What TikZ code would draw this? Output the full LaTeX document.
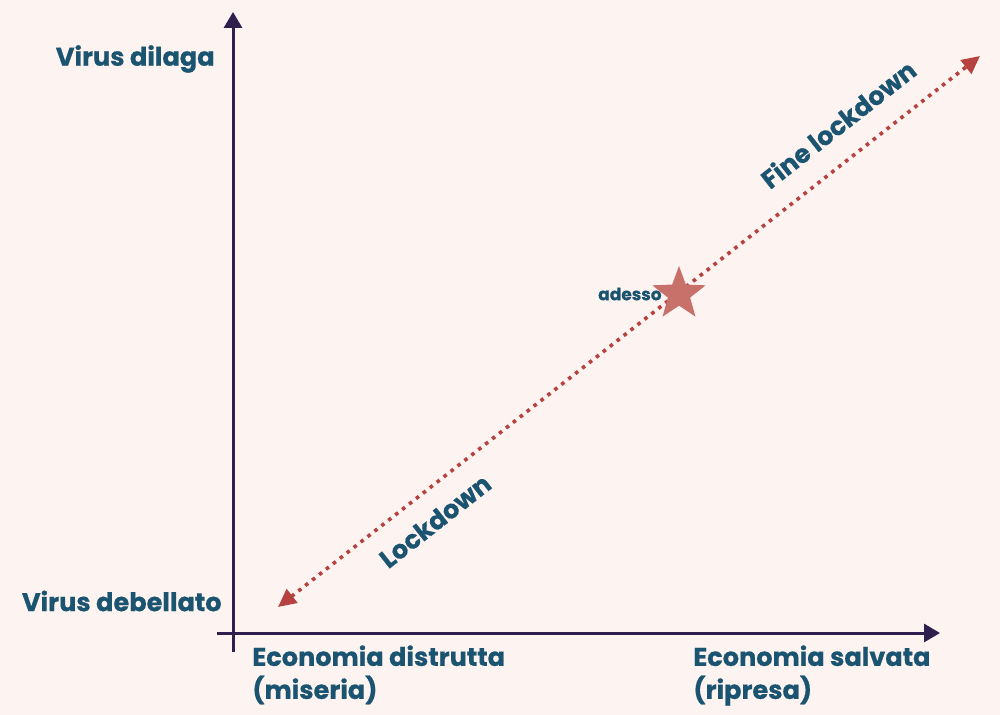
\documentclass[tikz,border=0pt]{standalone}
\usepackage{fontspec}
\setmainfont{Poppins}[BoldFeatures={FakeBold=0.6}]
\usetikzlibrary{arrows.meta,shapes.geometric}
\definecolor{bg}{HTML}{FDF3F1}
\definecolor{axis}{HTML}{2E1F4E}
\definecolor{txt}{HTML}{1B5470}
\definecolor{dotc}{HTML}{B5423F}
\definecolor{starc}{HTML}{C8706A}
\tikzset{
  lab/.style={text=txt, font=\bfseries\fontsize{12.8}{16.5}\selectfont, inner sep=0pt},
  axisline/.style={draw=axis, line width=1.5pt},
  path/.style={draw=dotc, line width=1.8pt, dash pattern=on 1.8pt off 2.6pt, {Triangle[length=9pt,width=8.5pt]}-{Triangle[length=9pt,width=8.5pt]}},
}
\begin{document}
\begin{tikzpicture}[x=0.5pt,y=-0.5pt]
\fill[bg] (0,0) rectangle (1000,715);
\useasboundingbox (0,0) rectangle (1000,715);
% axes
\coordinate (yb) at (233,652);
\coordinate (yt) at (233,12);
\coordinate (xl) at (217,633);
\coordinate (xr) at (940,633);
\draw[axisline, -{Triangle[length=8pt,width=9pt]}] (yb) -- (yt);
\draw[axisline, -{Triangle[length=8pt,width=9pt]}] (xl) -- (xr);
% diagonal
\coordinate (pa) at (278,607);
\coordinate (pb) at (980,56);
\draw[path] (pa) -- (pb);
\node[star, star points=5, star point ratio=2.4, fill=starc, minimum size=28pt, inner sep=0pt] (star) at (679,294) {};
\node[lab, font=\bfseries\fontsize{8.5}{10}\selectfont, anchor=east] (adesso) at (662,294) {adesso};
% labels
\node[lab, anchor=east] (vd) at (215,59) {Virus dilaga};
\node[lab, anchor=east] (vb) at (222,601) {Virus debellato};
\node[lab, anchor=north west, align=left] (ed) at (252,645) {Economia distrutta\\(miseria)};
\node[lab, anchor=north west, align=left] (es) at (693,645) {Economia salvata\\(ripresa)};
\node[lab, rotate=38.1] (lk) at (435,521) {Lockdown};
\node[lab, rotate=38.1] (fl) at (838,124) {Fine lockdown};
\end{tikzpicture}
\end{document}
